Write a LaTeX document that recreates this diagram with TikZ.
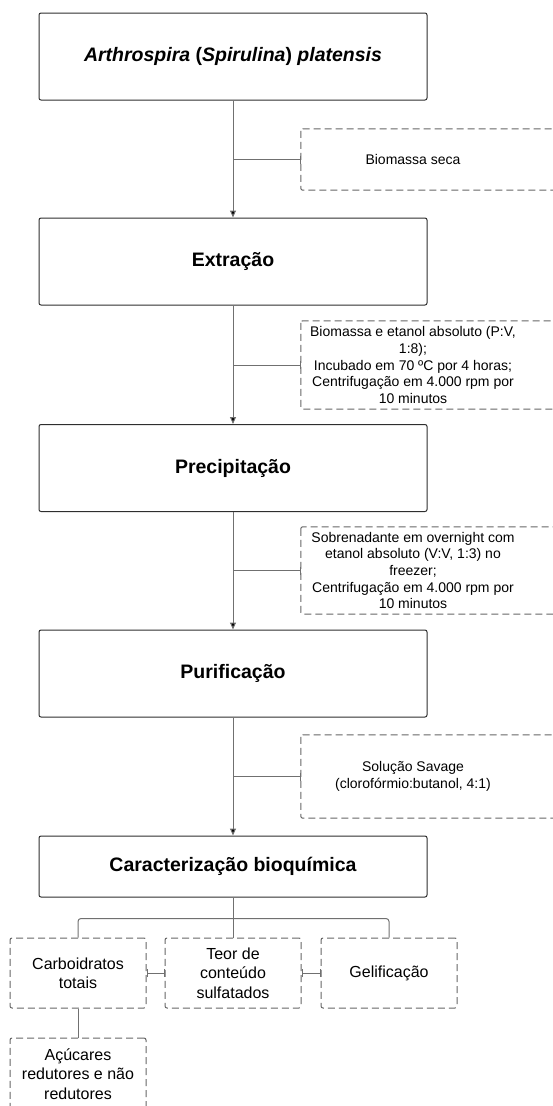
\documentclass[tikz,border=0pt]{standalone}
\usepackage{fontspec}
\setmainfont{Liberation Sans}
\usetikzlibrary{positioning,arrows.meta}
\definecolor{borda}{HTML}{2E2E2E}
\definecolor{linha}{HTML}{707070}
\definecolor{tracejado}{HTML}{666666}

\begin{document}
\begin{tikzpicture}[node distance=2cm,on grid,>={Triangle[width=6pt,length=7pt]}]
      \tikzset{etapa/.style={draw=borda,line width=1pt,rectangle,rounded corners=2pt,minimum width=388pt,minimum height=87pt,font=\bfseries\fontsize{19.5}{23}\selectfont}}
      \tikzset{nota/.style={draw=none,minimum width=224pt,inner xsep=8pt,align=center,font=\fontsize{14}{16.7}\selectfont}}
      \tikzset{ensaio/.style={draw=tracejado,line width=1pt,dash pattern=on 7pt off 4pt,rectangle,rounded corners=2pt,minimum width=136pt,minimum height=70pt,align=center,font=\fontsize{16}{19.3}\selectfont}}
      \tikzset{caixa/.style={draw=tracejado,line width=1pt,dash pattern=on 7pt off 4pt,rounded corners=2pt}}
      \tikzset{conector/.style={draw=linha,line width=1pt}}
      \useasboundingbox (0,0) rectangle (552pt,-1106pt);

      \node[etapa] (e1) at (233pt,-56.5pt) {\textit{Arthrospira} (\textit{Spirulina}) \textit{platensis}};
      \node[etapa] (e2) [below = 205pt of e1] {Extração};
      \node[etapa] (e3) [below = 206.5pt of e2] {Precipitação};
      \node[etapa] (e4) [below = 205.5pt of e3] {Purificação};
      \node[etapa,minimum height=61pt] (e5) [below = 193pt of e4] {Caracterização bioquímica};

      \node[nota,minimum height=61pt] (n1) [below right = 103pt and 180pt of e1] {Biomassa seca};
      \node[nota,minimum height=88pt] (n2) [below right = 103.5pt and 180pt of e2] {Biomassa e etanol absoluto (P:V,\\1:8);\\Incubado em 70 ºC por 4 horas;\\Centrifugação em 4.000 rpm por\\10 minutos};
      \node[nota,minimum height=87pt] (n3) [below right = 102.5pt and 180pt of e3] {Sobrenadante em overnight com\\etanol absoluto (V:V, 1:3) no\\freezer;\\Centrifugação em 4.000 rpm por\\10 minutos};
      \node[nota,minimum height=83pt] (n4) [below right = 103pt and 180pt of e4] {Solução Savage\\(clorofórmio:butanol, 4:1)};

      \node[ensaio] (t2) [below = 106.5pt of e5] {Teor de\\conteúdo\\sulfatados};
      \node[ensaio] (t1) [left = 155pt of t2] {Carboidratos\\totais};
      \node[ensaio] (t3) [right = 156pt of t2] {Gelificação};
      \node[ensaio,minimum height=72pt] (t4) [below = 101pt of t1] {Açúcares\\redutores e não\\redutores};

      % caixas tracejadas das notas
      \draw[caixa] (n1.north west) rectangle ([xshift=40pt]n1.south east);
      \draw[caixa] (n2.north west) rectangle ([xshift=40pt]n2.south east);
      \draw[caixa] (n3.north west) rectangle ([xshift=40pt]n3.south east);
      \draw[caixa] (n4.north west) rectangle ([xshift=40pt]n4.south east);

      \path[conector,->]
      (e1) edge (e2)
      (e2) edge (e3)
      (e3) edge (e4)
      (e4) edge (e5);

      \draw[conector,-{Bar[width=8pt]}] (n1.west -| e1.south) -- (n1.west);
      \draw[conector,-{Bar[width=8pt]}] (n2.west -| e2.south) -- (n2.west);
      \draw[conector,-{Bar[width=8pt]}] (n3.west -| e3.south) -- (n3.west);
      \draw[conector,-{Bar[width=8pt]}] (n4.west -| e4.south) -- (n4.west);

      \draw[conector,rounded corners=3pt] (t1.north) |- ([yshift=-21pt]e5.south) -| (t3.north);
      \draw[conector] (e5) -- (t2);
      \path[conector,{Bar[width=8pt]}-{Bar[width=8pt]}]
      (t1) edge (t2)
      (t2) edge (t3);
      \draw[conector] (t1) -- (t4);
    \end{tikzpicture}
\end{document}
